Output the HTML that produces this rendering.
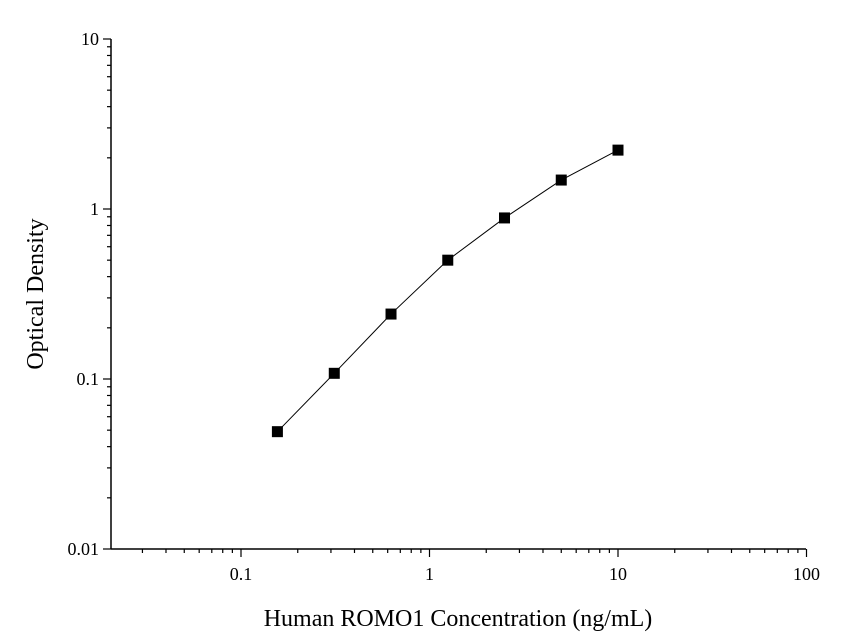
<!DOCTYPE html>
<html><head><meta charset="utf-8"><style>
html,body{margin:0;padding:0;background:#fff;}
svg{display:block;font-family:"Liberation Serif",serif;}
</style></head><body>
<svg id="chart" width="846" height="644" viewBox="0 0 846 644" xmlns="http://www.w3.org/2000/svg">
<g id="axes"></g><g id="series"></g>
<text x="458" y="626" font-size="24" text-anchor="middle">Human ROMO1 Concentration (ng/mL)</text>
<text transform="translate(43,294) rotate(-90)" font-size="24" text-anchor="middle">Optical Density</text>
</svg>
<script>
const concentrations=[0.156,0.3125,0.625,1.25,2.5,5,10];
const odValues=[0.049,0.108,0.241,0.50,0.886,1.48,2.22];
const xTickValues=[0.1,1,10,100];
const xTickLabels=["0.1","1","10","100"];
const yTickValues=[0.01,0.1,1,10];
const yTickLabels=["0.01","0.1","1","10"];
const NS="http://www.w3.org/2000/svg";
const X0=111,X1=806,Y0=549,Y1=39;
const xMinLog=Math.log10(0.1)-(241-111)/188.5;
function xs(v){return 241+(Math.log10(v)+1)*188.5;}
function ys(v){return 549-(Math.log10(v)+2)*170;}
function mk(t,a,p){const e=document.createElementNS(NS,t);for(const k in a)e.setAttribute(k,a[k]);p.appendChild(e);return e;}
const ax=document.getElementById('axes'),se=document.getElementById('series');
const xa=mk('line',{x1:X0,y1:Y0,x2:X1,y2:Y0,stroke:'#000','stroke-width':1.5},ax);


const ya=mk('line',{x1:X0,y1:Y0,x2:X0,y2:Y1,stroke:'#000','stroke-width':1.5},ax);


// x ticks
for(let d=-2;d<=2;d++){for(let m=1;m<10;m++){const v=m*Math.pow(10,d);const x=xs(v);if(x<X0-0.5||x>X1+0.5)continue;
 const major=m===1;mk('line',{x1:x,y1:Y0,x2:x,y2:Y0+(major?8:4),stroke:'#000','stroke-width':1.2},ax);}}
xTickValues.forEach((v,i)=>{const t=mk('text',{x:xs(v),y:Y0+31,'font-size':18,'text-anchor':'middle'},ax);t.textContent=xTickLabels[i];
 
 });
// y ticks
for(let d=-2;d<=0;d++){for(let m=1;m<10;m++){const v=m*Math.pow(10,d);const y=ys(v);
 const major=m===1;mk('line',{x1:X0,y1:y,x2:X0-(major?8:4),y2:y,stroke:'#000','stroke-width':1.2},ax);}}
mk('line',{x1:X0,y1:ys(10),x2:X0-8,y2:ys(10),stroke:'#000','stroke-width':1.2},ax);
yTickValues.forEach((v,i)=>{const t=mk('text',{x:X0-12,y:ys(v)+6,'font-size':18,'text-anchor':'end'},ax);t.textContent=yTickLabels[i];
 
 });
// line
const pts=concentrations.map((c,i)=>xs(c)+','+ys(odValues[i])).join(' ');
const pl=mk('polyline',{points:pts,fill:'none',stroke:'#000','stroke-width':1},se);


concentrations.forEach((c,i)=>{const r=mk('rect',{x:xs(c)-5.5,y:ys(odValues[i])-5.5,width:11,height:11,fill:'#000'},se);
 
 });
</script>
</body></html>
